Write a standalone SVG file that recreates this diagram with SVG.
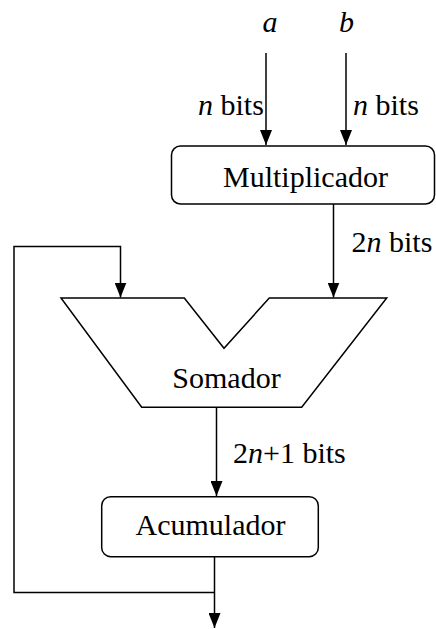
<svg xmlns="http://www.w3.org/2000/svg" width="436" height="629" viewBox="0 0 436 629">
<style>
.ln{fill:none;stroke:#000;stroke-width:1.5}
.box{fill:#fff;stroke:#000;stroke-width:1.5}
.t{font-family:"Liberation Serif","Times New Roman",serif;font-size:30px;fill:#000}
.i{font-style:italic}
</style>
<defs>
<marker id="ah" viewBox="0 0 15 12" refX="15" refY="6" markerWidth="15" markerHeight="12" orient="auto" markerUnits="userSpaceOnUse">
<path d="M0,0 L15,6 L0,12 Z" fill="#000"/>
</marker>
</defs>
<rect width="436" height="629" fill="#fff"/>
<g id="connectors">
<path class="ln" d="M266 53 V145" marker-end="url(#ah)"/>
<path class="ln" d="M346 53 V145" marker-end="url(#ah)"/>
<path class="ln" d="M333.5 204 V297.5" marker-end="url(#ah)"/>
<path class="ln" d="M214.5 592.5 H14 V246.5 H120.5 V297.5" marker-end="url(#ah)"/>
<path class="ln" d="M216.5 407 V496" marker-end="url(#ah)"/>
<path class="ln" d="M214.5 557 V628" marker-end="url(#ah)"/>
<text class="t" x="198" y="115"><tspan class="i">n</tspan> bits</text>
<text class="t" x="353" y="115"><tspan class="i">n</tspan> bits</text>
<text class="t" x="351.5" y="252"><tspan>2</tspan><tspan class="i">n</tspan> bits</text>
<text class="t" x="233" y="463"><tspan>2</tspan><tspan class="i">n</tspan>+1 bits</text>
</g>
<g id="input-a"><text class="t i" x="270" y="32" text-anchor="middle">a</text></g>
<g id="input-b"><text class="t i" x="346.5" y="32" text-anchor="middle">b</text></g>
<g id="multiplicador">
<rect class="box" x="171.5" y="146" width="263" height="58" rx="9"/>
<text class="t" x="305.5" y="187" text-anchor="middle">Multiplicador</text>
</g>
<g id="somador">
<polygon class="box" points="61,298 184.3,298 224,348.3 269.3,298 386.7,298 301.7,407.3 141.7,407.3"/>
<text class="t" x="226.5" y="388" text-anchor="middle">Somador</text>
</g>
<g id="acumulador">
<rect class="box" x="101.7" y="496.7" width="216.6" height="60" rx="9"/>
<text class="t" x="210.5" y="535" text-anchor="middle">Acumulador</text>
</g>
</svg>
